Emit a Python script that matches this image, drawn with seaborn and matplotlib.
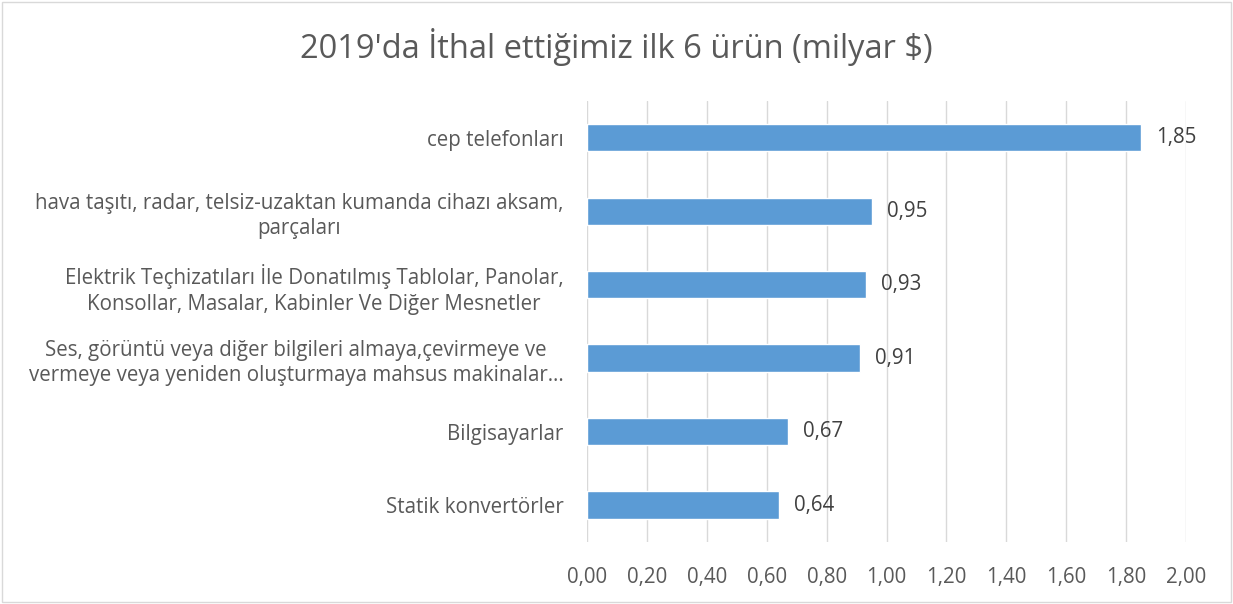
import matplotlib
matplotlib.use("Agg")
import matplotlib.pyplot as plt
import seaborn as sns
import pandas as pd
from matplotlib.patches import Rectangle

# data, top to bottom as shown
products = [
    "cep telefonları",
    "hava taşıtı, radar, telsiz-uzaktan kumanda cihazı aksam,\nparçaları",
    "Elektrik Teçhizatıları İle Donatılmış Tablolar, Panolar,\nKonsollar, Masalar, Kabinler Ve Diğer Mesnetler",
    "Ses, görüntü veya diğer bilgileri almaya,çevirmeye ve\nvermeye veya yeniden oluşturmaya mahsus makinalar…",
    "Bilgisayarlar",
    "Statik konvertörler",
]
values = [1.85, 0.95, 0.93, 0.91, 0.67, 0.64]
xticks = [0.0, 0.2, 0.4, 0.6, 0.8, 1.0, 1.2, 1.4, 1.6, 1.8, 2.0]

TXT = "#595959"
FS = 14.8

sns.set_theme(style="white")
plt.rcParams["font.family"] = ["Open Sans", "DejaVu Sans"]

df = pd.DataFrame({"urun": products, "deger": values})

fig = plt.figure(figsize=(12.33, 6.04), dpi=100)
ax = fig.add_axes([0.476, 0.103, 0.486, 0.730])

sns.barplot(data=df, x="deger", y="urun", orient="h", color="#5B9BD5",
            saturation=1, width=0.37, ax=ax)

ax.set_xlim(0, 2.0)
ax.set_xticks(xticks)
ax.set_xticklabels([f"{t:.2f}".replace(".", ",") for t in xticks],
                   fontsize=FS, color=TXT)
ax.tick_params(axis="x", length=0, pad=18)
ax.tick_params(axis="y", length=0, pad=17)
ax.set_yticks(range(len(products)))
ax.set_yticklabels(products, fontsize=FS, color=TXT,
                   ha="right", multialignment="center", linespacing=1.3)
ax.grid(axis="x", color="#d9d9d9", linewidth=1)
ax.set_axisbelow(True)
for s in ax.spines.values():
    s.set_visible(False)
ax.set_xlabel("")
ax.set_ylabel("")

for i, v in enumerate(values):
    ax.annotate(f"{v:.2f}".replace(".", ","), (v, i), xytext=(11, 0),
                textcoords="offset points", va="center", ha="left",
                fontsize=FS, color="#404040")

fig.text(0.5, 0.922, "2019'da İthal ettiğimiz ilk 6 ürün (milyar $)",
         ha="center", va="center", fontsize=23.5, color=TXT)

fig.patches.append(Rectangle((0.002, 0.003), 0.996, 0.994, transform=fig.transFigure,
                             fill=False, edgecolor="#d9d9d9", linewidth=1))

fig.savefig("out.png", dpi=100)
